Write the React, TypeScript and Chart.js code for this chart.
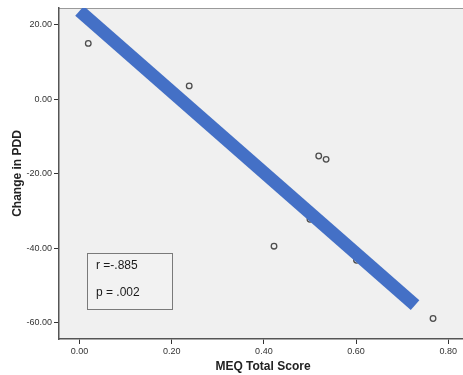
import React, { useEffect, useRef } from "react";
import { Chart, registerables } from "chart.js";

Chart.register(...registerables);

const pointX = [0.019, 0.238, 0.422, 0.5, 0.519, 0.535, 0.601, 0.767];
const pointY = [15.0, 3.6, -39.4, -32.2, -15.2, -16.1, -43.2, -58.8];
const fitX = [0.0, 0.728];
const fitY = [23.7, -55.2];
const xTicks = [0, 0.2, 0.4, 0.6, 0.8];
const yTicks = [20, 0, -20, -40, -60];
const xTitle = "MEQ Total Score";
const yTitle = "Change in PDD";
const statLines = ["r =-.885", "p = .002"];

const FONT = "'Liberation Sans', Arial, sans-serif";

export default function App() {
  const ref = useRef<HTMLCanvasElement | null>(null);

  useEffect(() => {
    if (!ref.current) return;
    const decor = {
      id: "decor",
      beforeDraw(chart: any) {
        const { ctx, chartArea: a } = chart;
        ctx.save();
        ctx.fillStyle = "#f0f0f0";
        ctx.fillRect(a.left, a.top, a.right - a.left, a.bottom - a.top);
        ctx.strokeStyle = "#9a9a9a";
        ctx.lineWidth = 1;
        ctx.beginPath();
        ctx.moveTo(a.left, a.top + 0.5);
        ctx.lineTo(a.right, a.top + 0.5);
        ctx.stroke();
        ctx.restore();
      },
      afterDraw(chart: any) {
        const { ctx, chartArea: a } = chart;
        ctx.save();
        const bx = a.left + 28, by = a.top + 245, bw = 85, bh = 56;
        ctx.fillStyle = "#f2f2f2";
        ctx.fillRect(bx, by, bw, bh);
        ctx.strokeStyle = "#7a7a7a";
        ctx.lineWidth = 1;
        ctx.strokeRect(bx + 0.5, by + 0.5, bw, bh);
        ctx.fillStyle = "#1a1a1a";
        ctx.font = `12px ${FONT}`;
        ctx.textAlign = "left";
        ctx.textBaseline = "middle";
        ctx.fillText(statLines[0], bx + 9, by + 13);
        ctx.fillText(statLines[1], bx + 9, by + 40);
        ctx.fillStyle = "#222";
        ctx.font = `bold 12px ${FONT}`;
        ctx.textAlign = "center";
        ctx.fillText(xTitle, 263, 367);
        ctx.translate(18, (a.top + a.bottom) / 2);
        ctx.rotate(-Math.PI / 2);
        ctx.fillText(yTitle, 0, 0);
        ctx.restore();
      },
    };

    const chart = new Chart(ref.current, {
      type: "scatter",
      data: {
        datasets: [
          {
            order: 2,
            data: pointX.map((x, i) => ({ x, y: pointY[i] })),
            pointRadius: 2.8,
            pointBorderWidth: 1.3,
            pointBorderColor: "#4d4d4d",
            pointBackgroundColor: "rgba(0,0,0,0)",
          },
          {
            type: "line",
            order: 0,
            data: fitX.map((x, i) => ({ x, y: fitY[i] })),
            borderColor: "#4470c6",
            borderWidth: 13,
            borderCapStyle: "butt",
            pointRadius: 0,
            fill: false,
          } as any,
        ],
      },
      options: {
        animation: false,
        responsive: false,
        devicePixelRatio: 1,
        layout: { autoPadding: false, padding: { top: 8, right: 0, left: 0, bottom: 0 } },
        plugins: { legend: { display: false }, tooltip: { enabled: false } },
        scales: {
          x: {
            type: "linear",
            min: -0.0445,
            max: 0.832,
            afterBuildTicks: (s: any) => {
              s.ticks = xTicks.map((v) => ({ value: v }));
            },
            afterFit: (s: any) => {
              s.height = 36;
              s.paddingLeft = 0;
              s.paddingRight = 0;
            },
            ticks: {
              callback: (v: any) => Number(v).toFixed(2),
              font: { family: FONT, size: 9 },
              color: "#333",
              padding: 2,
              maxRotation: 0,
              autoSkip: false,
            },
            grid: {
              drawOnChartArea: false,
              drawTicks: true,
              tickLength: 5,
              color: "#333",
            },
            border: { display: true, color: "#555", width: 1.5 },
          },
          y: {
            type: "linear",
            min: -64.3,
            max: 24.5,
            afterBuildTicks: (s: any) => {
              s.ticks = yTicks.map((v) => ({ value: v }));
            },
            afterFit: (s: any) => {
              s.width = 59;
              s.paddingTop = 0;
              s.paddingBottom = 0;
            },
            ticks: {
              callback: (v: any) => Number(v).toFixed(2),
              font: { family: FONT, size: 9 },
              color: "#333",
              padding: 2,
              autoSkip: false,
            },
            grid: {
              drawOnChartArea: false,
              drawTicks: true,
              tickLength: 5,
              color: "#333",
            },
            border: { display: true, color: "#555", width: 1.5 },
          },
        },
      } as any,
      plugins: [decor],
    });
    return () => chart.destroy();
  }, []);

  return (
    <div style={{ position: "fixed", left: 0, top: 0, width: 463, height: 375, background: "#fff" }}>
      <canvas ref={ref} width={463} height={375} style={{ display: "block" }} />
    </div>
  );
}
